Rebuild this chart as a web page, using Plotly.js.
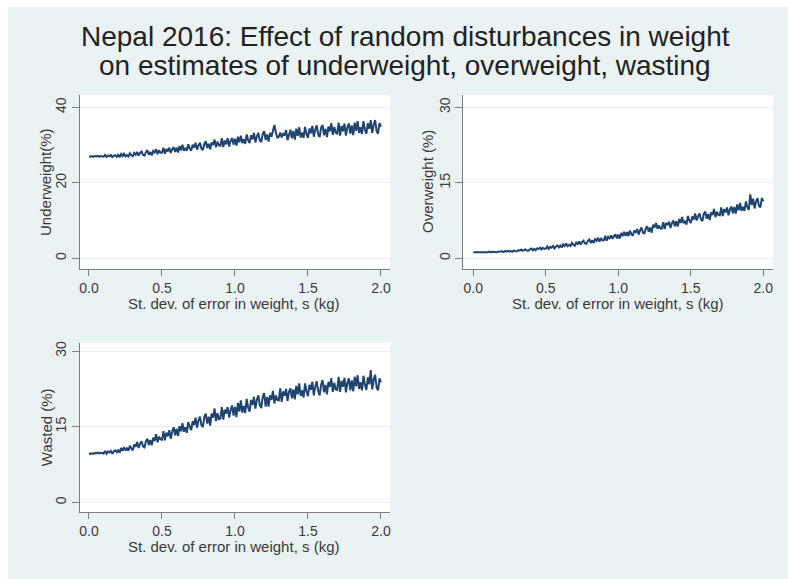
<!DOCTYPE html>
<html>
<head>
<meta charset="utf-8">
<script src="https://cdn.plot.ly/plotly-3.0.1.min.js"></script>
<style>
  html, body { margin: 0; padding: 0; background: #ffffff; }
  #chart { position: absolute; left: 8px; top: 7px; width: 780px; height: 572px; }
</style>
</head>
<body>
<div id="chart"></div>
<script>
// s grid: 0.00 .. 2.00 in steps of 0.01 (x0/dx on the traces)
const sdStart = 0;
const sdStep = 0.01;
const sdTicks = [0, 0.5, 1, 1.5, 2];
const sdTickText = ["0.0", "0.5", "1.0", "1.5", "2.0"];

const underweight = [
  27.0, 26.9, 27.05, 26.86, 27.1, 26.97, 27.15, 26.89, 27.07, 26.98,
  26.92, 27.4, 26.83, 27.25, 27.01, 27.34, 26.8, 27.16, 27.31, 26.86,
  27.43, 26.8, 27.61, 27.07, 27.7, 27.0, 27.35, 26.95, 27.8, 27.26,
  27.01, 27.91, 27.45, 28.17, 27.2, 27.9, 28.3, 27.4, 27.2, 28.1,
  28.63, 27.42, 28.2, 27.25, 28.45, 28.05, 28.9, 27.6, 28.6, 27.95,
  27.94, 29.3, 27.7, 28.95, 28.3, 29.3, 27.9, 28.9, 29.45, 28.15,
  29.33, 28.0, 29.75, 28.6, 30.1, 28.5, 29.25, 28.45, 30.2, 29.1,
  28.5, 30.1, 29.3, 30.6, 28.8, 29.9, 30.6, 29.1, 28.7, 30.3,
  31.0, 29.2, 30.35, 28.9, 30.7, 30.0, 31.45, 29.4, 30.9, 29.9,
  29.8, 31.8, 29.45, 31.2, 30.2, 31.85, 29.6, 31.1, 31.9, 30.1,
  31.67, 29.85, 32.2, 30.7, 32.5, 30.5, 31.55, 30.3, 32.8, 31.3,
  30.5, 32.6, 31.5, 33.2, 30.7, 32.3, 33.2, 31.2, 30.8, 32.9,
  33.65, 31.35, 32.8, 30.9, 33.2, 32.2, 34.0, 35.3, 33.3, 32.0,
  32.2, 33.3, 32.0, 32.95, 32.5, 34.0, 31.3, 33.1, 34.05, 31.8,
  33.7, 31.45, 34.35, 32.45, 34.7, 32.0, 33.3, 31.9, 34.8, 32.9,
  31.9, 34.4, 33.1, 35.1, 32.2, 34.1, 35.2, 32.8, 32.1, 34.6,
  35.3, 32.6, 34.3, 32.1, 34.9, 33.6, 35.8, 32.7, 34.8, 33.3,
  33.05, 35.95, 32.5, 35.1, 33.65, 35.7, 32.5, 34.7, 35.7, 33.0,
  35.2, 32.6, 35.95, 33.75, 36.35, 33.2, 34.7, 32.9, 36.3, 34.1,
  32.95, 35.8, 34.3, 36.6, 33.2, 35.4, 36.6, 33.7, 33.0, 35.8,
  34.9
];

const overweight = [
  1.2, 1.18, 1.21, 1.17, 1.22, 1.19, 1.23, 1.18, 1.21, 1.19,
  1.2, 1.31, 1.18, 1.28, 1.24, 1.3, 1.21, 1.28, 1.33, 1.24,
  1.38, 1.21, 1.44, 1.3, 1.5, 1.32, 1.42, 1.3, 1.55, 1.41,
  1.35, 1.62, 1.5, 1.74, 1.48, 1.65, 1.77, 1.55, 1.5, 1.77,
  1.94, 1.6, 1.86, 1.6, 1.96, 1.86, 2.1, 1.75, 2.06, 1.87,
  1.89, 2.35, 1.86, 2.26, 2.1, 2.43, 1.96, 2.33, 2.54, 2.16,
  2.55, 2.13, 2.76, 2.42, 2.93, 2.4, 2.68, 2.41, 3.05, 2.7,
  2.49, 3.13, 2.85, 3.34, 2.73, 3.2, 3.5, 2.94, 2.86, 3.48,
  3.75, 3.05, 3.56, 3.04, 3.79, 3.49, 4.07, 3.3, 4.0, 3.56,
  3.55, 4.45, 3.5, 4.26, 3.96, 4.55, 3.87, 4.39, 4.77, 3.94,
  4.69, 3.9, 5.02, 4.4, 5.25, 4.43, 5.2, 4.4, 5.5, 4.79,
  4.46, 5.5, 5.06, 5.8, 4.7, 5.55, 6.1, 5.04, 4.92, 5.95,
  6.33, 5.27, 6.1, 5.08, 6.66, 6.1, 7.0, 5.85, 6.53, 5.9,
  5.9, 7.15, 5.8, 7.0, 6.6, 7.25, 6.02, 7.0, 7.5, 6.35,
  7.37, 6.32, 7.8, 7.0, 8.2, 6.95, 7.45, 6.7, 8.4, 7.47,
  7.0, 8.3, 7.7, 8.9, 7.5, 8.3, 8.9, 7.7, 7.4, 8.85,
  9.26, 7.85, 8.8, 7.6, 9.1, 8.6, 9.8, 8.15, 9.25, 8.6,
  8.53, 10.1, 8.4, 9.75, 9.1, 10.1, 8.55, 9.7, 10.3, 8.95,
  10.2, 8.85, 10.7, 9.55, 11.0, 9.45, 10.2, 9.4, 11.3, 10.15,
  9.6, 12.7, 10.6, 11.85, 9.9, 11.25, 11.95, 10.4, 10.1, 12.0,
  11.3
];

const wasted = [
  9.7, 9.62, 9.74, 9.61, 9.79, 9.73, 9.88, 9.69, 9.83, 9.74,
  9.67, 10.18, 9.65, 10.1, 9.89, 10.2, 9.6, 10.12, 10.3, 9.95,
  10.45, 9.82, 10.78, 10.2, 10.96, 10.3, 10.7, 10.25, 11.2, 10.7,
  10.32, 11.47, 11.03, 11.95, 10.78, 11.6, 12.1, 11.1, 10.9, 12.1,
  12.6, 11.36, 12.36, 11.3, 12.8, 12.2, 13.5, 11.9, 13.0, 12.5,
  12.4, 14.1, 12.3, 13.8, 13.1, 14.3, 12.6, 14.0, 14.9, 13.3,
  14.6, 13.2, 15.1, 14.1, 15.7, 14.0, 14.9, 13.8, 15.9, 15.0,
  14.3, 16.1, 15.3, 16.8, 14.8, 16.2, 17.0, 15.3, 14.9, 16.9,
  17.6, 15.6, 17.0, 15.2, 17.6, 16.8, 18.6, 16.1, 17.7, 16.5,
  16.6, 18.9, 16.4, 18.4, 17.6, 18.9, 16.8, 18.3, 19.2, 17.2,
  18.9, 16.9, 19.7, 18.0, 20.2, 17.8, 19.1, 17.7, 20.5, 18.8,
  18.0, 20.3, 19.3, 20.9, 18.6, 20.3, 21.2, 19.3, 18.7, 20.9,
  21.65, 19.0, 20.9, 19.0, 21.2, 20.3, 22.1, 19.6, 21.2, 20.3,
  20.2, 22.6, 19.9, 22.0, 21.1, 22.5, 20.1, 21.9, 22.6, 20.6,
  22.4, 20.4, 23.1, 21.4, 23.6, 21.1, 22.2, 20.8, 23.6, 22.0,
  21.05, 23.3, 22.3, 23.9, 21.2, 22.9, 24.0, 22.1, 21.2, 23.3,
  24.25, 21.8, 23.3, 21.4, 23.9, 22.9, 24.6, 21.9, 23.7, 22.4,
  22.3, 24.9, 21.9, 24.1, 22.9, 24.7, 21.8, 23.7, 24.6, 22.2,
  24.2, 22.0, 24.9, 23.0, 25.2, 22.5, 23.8, 22.2, 25.1, 23.3,
  22.3, 24.8, 23.4, 26.2, 22.4, 24.3, 25.3, 22.8, 22.2, 24.6,
  23.8
];

const titleLines = [
  "Nepal 2016: Effect of random disturbances in weight",
  "on estimates of underweight, overweight, wasting",
];
const xTitle = "St. dev. of error in weight, s (kg)";

const lineColor = "#1f4470";
const axisColor = "#7f7f7f";
const textColor = "#3a3a3a";
const fontFamily = "'Liberation Sans', Arial, sans-serif";

// xt / yt: where each axis title sits, in paper fractions
const panels = [
  { y: underweight, ytitle: "Underweight(%)", yticks: [0, 20, 40],
    xdomain: [0.0923, 0.4897], xrange: [-0.0616, 2.0616],
    ydomain: [0.542, 0.8462], yrange: [-2.83, 43.26],
    xt: [0.2897, 0.4818], yt: [0.0487, 0.6941] },
  { y: overweight, ytitle: "Overweight (%)", yticks: [0, 15, 30],
    xdomain: [0.5837, 0.9808], xrange: [-0.069, 2.067],
    ydomain: [0.542, 0.8462], yrange: [-2.13, 32.44],
    xt: [0.782, 0.4818], yt: [0.5385, 0.6941] },
  { y: wasted, ytitle: "Wasted (%)", yticks: [0, 15, 30],
    xdomain: [0.0923, 0.4897], xrange: [-0.0616, 2.0616],
    ydomain: [0.1176, 0.4131], yrange: [-1.86, 31.65],
    xt: [0.2897, 0.0569], yt: [0.0487, 0.2654] },
];

const annotations = titleLines.map((text, i) => ({
  text: text,
  xref: "paper",
  yref: "paper",
  x: 0.509,
  y: i == 0 ? 0.948 : 0.8977,
  xanchor: "center",
  yanchor: "middle",
  showarrow: false,
  font: { family: fontFamily, size: 28, color: "#222222" },
}));

const data = [];
const layout = {
  width: 780,
  height: 572,
  margin: { l: 0, r: 0, t: 0, b: 0 },
  paper_bgcolor: "#eaf2f3",
  plot_bgcolor: "#ffffff",
  showlegend: false,
  font: { family: fontFamily, color: textColor, size: 13 },
  annotations: annotations,
};

panels.forEach((p, i) => {
  const n = i == 0 ? "" : String(i + 1);
  data.push({
    type: "scatter",
    mode: "lines",
    x0: sdStart,
    dx: sdStep,
    y: p.y,
    xaxis: "x" + n,
    yaxis: "y" + n,
    line: { color: lineColor, width: 2 },
    hoverinfo: "skip",
  });

  layout["xaxis" + n] = {
    domain: p.xdomain,
    range: p.xrange,
    anchor: "y" + n,
    tickvals: sdTicks,
    ticktext: sdTickText,
    ticks: "outside",
    ticklen: 6,
    tickcolor: axisColor,
    tickfont: { size: 14 },
    showline: true,
    linecolor: axisColor,
    linewidth: 1,
    showgrid: false,
    zeroline: false,
  };

  layout["yaxis" + n] = {
    domain: p.ydomain,
    range: p.yrange,
    anchor: "x" + n,
    tickvals: p.yticks,
    tickangle: -90,
    ticks: "outside",
    ticklen: 7,
    tickcolor: axisColor,
    tickfont: { size: 14 },
    showline: true,
    linecolor: axisColor,
    linewidth: 1,
    showgrid: true,
    gridcolor: "#eaf1f3",
    gridwidth: 1,
    zeroline: false,
  };

  // axis titles, placed like the Stata layout (tight under the tick labels)
  annotations.push({
    text: xTitle,
    xref: "paper", yref: "paper",
    x: p.xt[0], y: p.xt[1],
    xanchor: "center", yanchor: "middle",
    showarrow: false,
    font: { size: 15, color: textColor },
  });
  annotations.push({
    text: p.ytitle,
    xref: "paper", yref: "paper",
    x: p.yt[0], y: p.yt[1],
    xanchor: "center", yanchor: "middle",
    textangle: -90,
    showarrow: false,
    font: { size: 15, color: textColor },
  });
});

Plotly.newPlot("chart", data, layout, { staticPlot: true, displayModeBar: false });
</script>
</body>
</html>
